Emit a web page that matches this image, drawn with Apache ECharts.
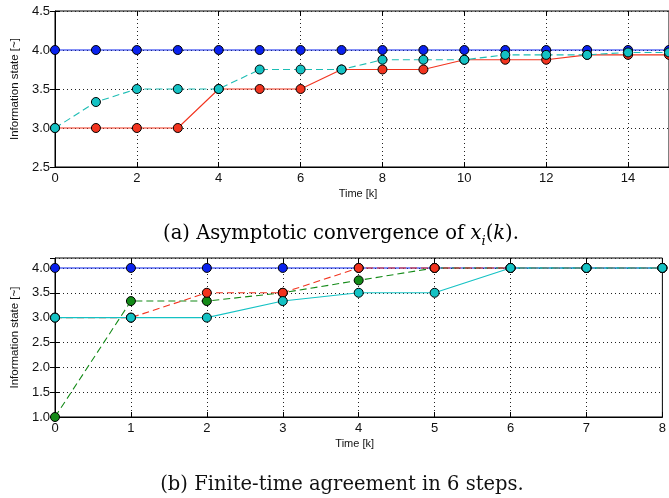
<!DOCTYPE html>
<html>
<head>
<meta charset="utf-8">
<script src="https://cdn.jsdelivr.net/npm/echarts@6/dist/echarts.min.js"></script>
<style>html,body{margin:0;padding:0;background:#fff;}#c{width:669px;height:498px;}</style>
</head>
<body>
<div id="c"></div>
<script>
// ---- data ----
const kTop = [0,1,2,3,4,5,6,7,8,9,10,11,12,13,14,15];
const topBlue = [4,4,4,4,4,4,4,4,4,4,4,4,4,4,4,4];
const topRed  = [3,3,3,3,3.5,3.5,3.5,3.75,3.75,3.75,3.875,3.875,3.875,3.9375,3.9375,3.9375];
const topCyan = [3,3.3333,3.5,3.5,3.5,3.75,3.75,3.75,3.875,3.875,3.875,3.9375,3.9375,3.9375,3.96875,3.96875];

const kBot = [0,1,2,3,4,5,6,7,8];
const botBlue  = [4,4,4,4,4,4,4,4,4];
const botGreen = [1,3.3333,3.3333,3.5,3.75,4,4,4,4];
const botRed   = [3,3,3.5,3.5,4,4,4,4,4];
const botCyan  = [3,3,3,3.3333,3.5,3.5,4,4,4];

const yName = 'Information state [~]';
const xName = 'Time [k]';
const captionA = ['(a) Asymptotic convergence of ', 'x', 'i', '(', 'k', ').'];
const captionB = '(b) Finite-time agreement in 6 steps.';

// ---- helpers ----
const pairs = (xs, ys) => xs.map((x, i) => [x, ys[i]]);
const C = {blue:'#0a22ee', red:'#f2341f', cyan:'#14c2c4', cyanLine:'#1dbdb4', green:'#138a17'};
const tickFont = {fontFamily:'Liberation Sans, Arial, sans-serif', fontSize:13, color:'#111'};
const dotted = {color:'#222', type:[1,3], width:1};

function mkSeries(xi, data, color, lineColor, dashed) {
  return {
    type:'line', xAxisIndex:xi, yAxisIndex:xi, data:data,
    symbol:'circle', symbolSize:9, animation:false,
    itemStyle:{color:color, borderColor:'#000', borderWidth:1},
    lineStyle:{color:lineColor, width:1.1, type: dashed ? [7,4] : 'solid'},
    z: 3
  };
}
function xAx(gi, max, interval) {
  return {
    type:'value', gridIndex:gi, min:0, max:max, interval:interval,
    name: xName, nameLocation:'middle', nameGap:21,
    nameTextStyle:{fontFamily:'Liberation Sans, Arial, sans-serif', fontSize:11, color:'#111', padding:[0,8,0,0]},
    axisLine:{show:true, lineStyle:{color:'#000', width:1}},
    axisTick:{show:true, inside:true, length:5, lineStyle:{color:'#000'}},
    axisLabel:Object.assign({margin:5, showMaxLabel: max % interval === 0}, tickFont),
    splitLine:{show:true, lineStyle:dotted}
  };
}
function xTop(gi, max, interval) {
  return {
    type:'value', gridIndex:gi, position:'top', min:0, max:max, interval:interval,
    axisLine:{show:false}, axisTick:{show:true, inside:true, length:5, lineStyle:{color:'#000'}},
    axisLabel:{show:false}, splitLine:{show:false}
  };
}
function yAx(gi, min, max, interval, showMax) {
  return {
    type:'value', gridIndex:gi, min:min, max:max, interval:interval,
    name: yName, nameLocation:'middle', nameGap:31, nameRotate:90,
    nameTextStyle:{fontFamily:'Liberation Sans, Arial, sans-serif', fontSize:11.5, color:'#111'},
    axisLine:{show:true, lineStyle:{color:'#000', width:1}},
    axisTick:{show:true, inside:true, length:5, lineStyle:{color:'#000'}},
    axisLabel:Object.assign({margin:5, showMaxLabel:showMax, showMinLabel:true, formatter:v=>v.toFixed(1)}, tickFont),
    splitLine:{show:true, lineStyle:dotted}
  };
}
function yRight(gi, min, max, interval) {
  return {
    type:'value', gridIndex:gi, position:'right', min:min, max:max, interval:interval,
    axisLine:{show:false}, axisTick:{show:true, inside:true, length:5, lineStyle:{color:'#000'}},
    axisLabel:{show:false}, splitLine:{show:false}
  };
}

const chart = echarts.init(document.getElementById('c'), null, {renderer:'canvas'});
const serifFam = 'DejaVu Serif, Liberation Serif, serif';
chart.setOption({
  backgroundColor:'#fff',
  animation:false,
  grid:[
    {left:55, top:11, width:617, height:156, show:true, borderColor:'#000', borderWidth:1, backgroundColor:'transparent'},
    {left:55, top:258, width:611, height:159, show:true, borderColor:'#000', borderWidth:1, backgroundColor:'transparent'}
  ],
  xAxis:[ xAx(0, 15, 2), xAx(1, 8, 1), xTop(0, 15, 2), xTop(1, 8, 1) ],
  yAxis:[ yAx(0, 2.5, 4.5, 0.5, true), yAx(1, 1.0, 4.2, 0.5, false), yRight(0, 2.5, 4.5, 0.5), yRight(1, 1.0, 4.2, 0.5) ],
  series:[
    mkSeries(0, pairs(kTop, topBlue), C.blue, C.blue, false),
    mkSeries(0, pairs(kTop, topRed), C.red, C.red, false),
    mkSeries(0, pairs(kTop, topCyan), C.cyan, C.cyanLine, true),
    mkSeries(1, pairs(kBot, botBlue), C.blue, C.blue, false),
    mkSeries(1, pairs(kBot, botGreen), C.green, C.green, true),
    mkSeries(1, pairs(kBot, botRed), C.red, C.red, true),
    mkSeries(1, pairs(kBot, botCyan), C.cyan, C.cyan, false)
  ],
  graphic:[
    {type:'text', x:341, y:222, style:{
      align:'center', verticalAlign:'top',
      text:'{n|'+captionA[0]+'}{i|'+captionA[1]+'}{s|'+captionA[2]+'}{n|'+captionA[3]+'}{i|'+captionA[4]+'}{n|'+captionA[5]+'}',
      rich:{
        n:{fontFamily:serifFam, fontSize:19.5, color:'#111', lineHeight:22, verticalAlign:'bottom'},
        i:{fontFamily:serifFam, fontSize:19.5, fontStyle:'italic', color:'#111', lineHeight:22, verticalAlign:'bottom'},
        s:{fontFamily:serifFam, fontSize:13, fontStyle:'italic', color:'#111', lineHeight:13, verticalAlign:'bottom', padding:[0,0,-4,0]}
      }
    }},
    {type:'text', x:342, y:475, style:{
      align:'center', verticalAlign:'top',
      text:captionB, fontFamily:serifFam, fontSize:19.5, fill:'#111'
    }}
  ]
});
</script>
</body>
</html>
